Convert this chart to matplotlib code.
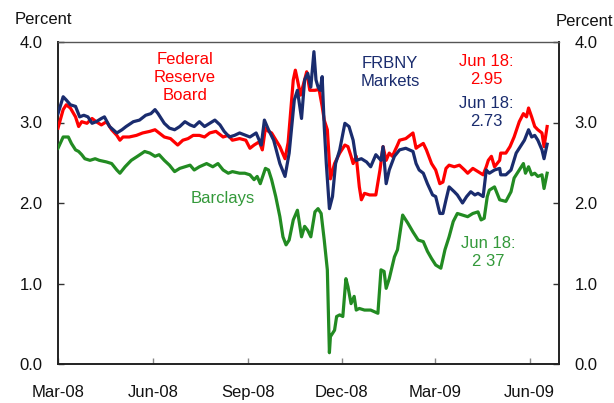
import matplotlib
matplotlib.use("Agg")
import matplotlib.pyplot as plt
import pandas as pd

plt.rcParams['font.family'] = ['Liberation Sans', 'DejaVu Sans']

# ---------------- data ----------------
fed_dates = ["2008-03-01","2008-03-06","2008-03-09","2008-03-13","2008-03-18","2008-03-21","2008-03-24",
 "2008-03-29","2008-04-03","2008-04-07","2008-04-12","2008-04-17","2008-04-22","2008-04-27","2008-04-30",
 "2008-05-03","2008-05-09","2008-05-16","2008-05-22","2008-05-29","2008-06-03","2008-06-07","2008-06-12",
 "2008-06-18","2008-06-25","2008-06-30","2008-07-05","2008-07-10","2008-07-16","2008-07-21","2008-07-26",
 "2008-08-01","2008-08-08","2008-08-13","2008-08-17","2008-08-24","2008-08-30","2008-09-03","2008-09-07",
 "2008-09-12","2008-09-15","2008-09-18","2008-09-21","2008-09-24","2008-10-02","2008-10-07","2008-10-10",
 "2008-10-15","2008-10-17","2008-10-19","2008-10-22","2008-10-26","2008-10-28","2008-10-31","2008-11-05",
 "2008-11-09","2008-11-12","2008-11-14","2008-11-17","2008-11-20","2008-11-24","2008-11-29","2008-12-04",
 "2008-12-07","2008-12-10","2008-12-12","2008-12-15","2008-12-18","2008-12-20","2008-12-23","2008-12-28",
 "2009-01-03","2009-01-07","2009-01-10","2009-01-13","2009-01-16","2009-01-19","2009-01-24","2009-01-26",
 "2009-02-01","2009-02-08","2009-02-11","2009-02-13","2009-02-18","2009-02-21","2009-02-26","2009-03-02",
 "2009-03-06","2009-03-09","2009-03-12","2009-03-15","2009-03-20","2009-03-25","2009-03-30","2009-04-02",
 "2009-04-07","2009-04-12","2009-04-17","2009-04-20","2009-04-22","2009-04-25","2009-04-28","2009-05-03",
 "2009-05-04","2009-05-09","2009-05-13","2009-05-17","2009-05-22","2009-05-26","2009-05-29","2009-05-31",
 "2009-06-03","2009-06-06","2009-06-09","2009-06-13","2009-06-15","2009-06-18"]
fed_vals = [2.93,3.16,3.22,3.18,3.07,2.95,3.01,
 2.99,3.05,3.01,2.97,3.01,2.91,2.84,2.78,
 2.82,2.82,2.84,2.87,2.89,2.91,2.87,2.82,
 2.80,2.72,2.78,2.80,2.84,2.84,2.82,2.87,
 2.89,2.82,2.84,2.78,2.80,2.78,2.68,2.72,
 2.76,2.66,2.93,2.89,2.87,2.70,2.55,2.75,
 3.53,3.65,3.53,3.34,3.53,3.63,3.40,3.40,
 3.41,3.20,3.03,2.91,2.30,2.49,2.62,2.72,
 2.70,2.58,2.49,2.58,2.20,2.04,2.12,2.10,
 2.10,2.41,2.70,2.53,2.62,2.58,2.72,2.78,
 2.80,2.87,2.68,2.70,2.74,2.66,2.49,2.41,
 2.24,2.26,2.43,2.47,2.45,2.47,2.41,2.37,
 2.43,2.39,2.35,2.45,2.53,2.58,2.45,2.53,
 2.62,2.62,2.70,2.82,3.01,3.11,3.07,3.18,
 3.07,2.95,2.91,2.87,2.70,2.95]

frbny_dates = ["2008-03-01","2008-03-06","2008-03-09","2008-03-13","2008-03-18","2008-03-22","2008-03-26",
 "2008-03-30","2008-04-03","2008-04-07","2008-04-12","2008-04-15","2008-04-20","2008-04-27","2008-05-02",
 "2008-05-06","2008-05-13","2008-05-19","2008-05-25","2008-05-30","2008-06-03","2008-06-06","2008-06-09",
 "2008-06-12","2008-06-17","2008-06-22","2008-06-27","2008-07-02","2008-07-07","2008-07-11","2008-07-16",
 "2008-07-21","2008-07-26","2008-07-31","2008-08-05","2008-08-09","2008-08-14","2008-08-19","2008-08-24",
 "2008-08-30","2008-09-03","2008-09-09","2008-09-12","2008-09-14","2008-09-17","2008-09-21","2008-09-26",
 "2008-10-02","2008-10-07","2008-10-11","2008-10-16","2008-10-19","2008-10-23","2008-10-26","2008-10-29",
 "2008-11-01","2008-11-04","2008-11-06","2008-11-08","2008-11-10","2008-11-12","2008-11-14","2008-11-16",
 "2008-11-19","2008-11-22","2008-11-25","2008-11-29","2008-12-04","2008-12-08","2008-12-12","2008-12-15",
 "2008-12-20","2008-12-25","2008-12-29","2009-01-03","2009-01-08","2009-01-10","2009-01-13","2009-01-16",
 "2009-01-21","2009-01-26","2009-02-01","2009-02-08","2009-02-11","2009-02-14","2009-02-18","2009-02-22",
 "2009-02-27","2009-03-02","2009-03-06","2009-03-09","2009-03-12","2009-03-15","2009-03-20","2009-03-23",
 "2009-03-28","2009-04-01","2009-04-05","2009-04-09","2009-04-12","2009-04-17","2009-04-20","2009-04-23",
 "2009-04-28","2009-05-03","2009-05-04","2009-05-09","2009-05-14","2009-05-19","2009-05-24","2009-05-27",
 "2009-05-31","2009-06-03","2009-06-06","2009-06-09","2009-06-13","2009-06-15","2009-06-18"]
frbny_vals = [3.11,3.32,3.28,3.22,3.20,3.07,3.09,
 3.07,2.99,3.01,3.05,3.07,2.95,2.87,2.91,
 2.95,3.01,3.03,3.09,3.11,3.16,3.11,3.05,
 2.99,2.93,2.91,2.95,3.01,2.97,2.95,3.01,
 2.95,2.99,3.03,2.97,2.89,2.82,2.84,2.87,
 2.84,2.82,2.87,2.78,2.72,3.03,2.91,2.78,
 2.49,2.33,2.62,3.28,3.40,3.05,3.53,3.61,
 3.44,3.88,3.53,3.44,3.40,3.57,2.95,2.49,
 1.93,2.08,2.49,2.66,2.99,2.95,2.78,2.53,
 2.55,2.51,2.45,2.60,2.53,2.70,2.24,2.41,
 2.58,2.66,2.68,2.64,2.49,2.41,2.37,2.24,
 2.10,2.08,1.87,1.87,2.04,2.20,2.14,2.10,
 2.00,2.08,2.14,2.10,2.12,2.08,2.41,2.37,
 2.41,2.43,2.35,2.35,2.41,2.62,2.72,2.78,
 2.91,2.82,2.84,2.78,2.66,2.55,2.73]

barc_dates = ["2008-03-01","2008-03-06","2008-03-11","2008-03-14","2008-03-18","2008-03-21","2008-03-24",
 "2008-03-27","2008-04-01","2008-04-06","2008-04-10","2008-04-17","2008-04-22","2008-04-27","2008-04-30",
 "2008-05-05","2008-05-11","2008-05-17","2008-05-24","2008-05-29","2008-06-03","2008-06-07","2008-06-12",
 "2008-06-17","2008-06-22","2008-06-27","2008-07-02","2008-07-07","2008-07-11","2008-07-16","2008-07-23",
 "2008-07-29","2008-08-03","2008-08-08","2008-08-13","2008-08-17","2008-08-24","2008-08-29","2008-09-03",
 "2008-09-07","2008-09-10","2008-09-13","2008-09-18","2008-09-21","2008-09-24","2008-09-28","2008-10-02",
 "2008-10-05","2008-10-08","2008-10-11","2008-10-15","2008-10-19","2008-10-23","2008-10-26","2008-10-29",
 "2008-11-01","2008-11-05","2008-11-08","2008-11-11","2008-11-14","2008-11-17","2008-11-19","2008-11-20",
 "2008-11-24","2008-11-26","2008-11-29","2008-12-02","2008-12-05","2008-12-07","2008-12-10","2008-12-13",
 "2008-12-15","2008-12-18","2008-12-23","2008-12-29","2009-01-05","2009-01-08","2009-01-11","2009-01-13",
 "2009-01-16","2009-01-21","2009-01-24","2009-01-29","2009-02-03","2009-02-08","2009-02-13","2009-02-18",
 "2009-02-22","2009-02-26","2009-03-02","2009-03-07","2009-03-11","2009-03-15","2009-03-19","2009-03-23",
 "2009-03-28","2009-04-02","2009-04-07","2009-04-12","2009-04-15","2009-04-18","2009-04-21","2009-04-23",
 "2009-04-28","2009-05-03","2009-05-09","2009-05-14","2009-05-17","2009-05-22","2009-05-26","2009-05-28",
 "2009-05-31","2009-06-03","2009-06-06","2009-06-09","2009-06-13","2009-06-15","2009-06-18"]
barc_vals = [2.68,2.82,2.82,2.74,2.66,2.64,2.60,
 2.55,2.53,2.55,2.53,2.51,2.49,2.41,2.37,
 2.45,2.53,2.58,2.64,2.62,2.58,2.60,2.53,
 2.47,2.39,2.43,2.45,2.47,2.41,2.45,2.49,
 2.45,2.49,2.41,2.37,2.39,2.37,2.37,2.35,
 2.29,2.33,2.24,2.43,2.41,2.29,2.08,1.83,
 1.58,1.48,1.54,1.79,1.91,1.58,1.71,1.66,
 1.58,1.89,1.93,1.87,1.54,1.17,0.14,0.34,
 0.42,0.59,0.61,0.59,1.06,0.96,0.75,0.84,
 0.67,0.69,0.67,0.67,0.63,1.17,1.15,0.94,
 1.06,1.33,1.42,1.85,1.75,1.64,1.54,1.52,
 1.40,1.31,1.23,1.19,1.42,1.58,1.77,1.87,
 1.85,1.83,1.87,1.89,1.79,1.81,2.08,2.16,
 2.20,2.04,2.02,2.14,2.31,2.41,2.49,2.37,
 2.45,2.35,2.37,2.33,2.35,2.18,2.37]

y_ticks = [0, 1, 2, 3, 4]
y_ticklabels = ["0.0", "1.0", "2.0", "3.0", "4.0"]
x_ticks = ["2008-03-01", "2008-06-01", "2008-09-01", "2008-12-01", "2009-03-01", "2009-06-01"]
x_ticklabels = ["Mar-08", "Jun-08", "Sep-08", "Dec-08", "Mar-09", "Jun-09"]
x_range = ["2008-03-01", "2009-06-29 12:00"]

# ---------------- style ----------------
RED = "#FF0000"
NAVY = "#1A2C6E"
GREEN = "#228B22"
GREEN_TXT = "#33993A"
FS = 12

W, H = 614, 403
fig = plt.figure(figsize=(W / 100, H / 100), dpi=100)
ax = fig.add_axes([58 / W, 1 - 364 / H, (559 - 58) / W, (364 - 42) / H])

ax.plot(pd.to_datetime(barc_dates), barc_vals, color=GREEN, lw=2.3, solid_joinstyle="round", zorder=3)
ax.plot(pd.to_datetime(fed_dates), fed_vals, color=RED, lw=2.3, solid_joinstyle="round", zorder=4)
ax.plot(pd.to_datetime(frbny_dates), frbny_vals, color=NAVY, lw=2.3, solid_joinstyle="round", zorder=5)

ax.set_xlim(pd.to_datetime(x_range[0]), pd.to_datetime(x_range[1]))
ax.set_ylim(0, 4)

ax.set_xticks(pd.to_datetime(x_ticks))
ax.set_xticklabels(x_ticklabels, fontsize=FS, color="#111111")
ax.set_yticks(y_ticks)
ax.set_yticklabels(y_ticklabels, fontsize=FS, color="#111111")
ax.tick_params(axis="x", direction="in", length=4, width=1, color="#888888", pad=15)
ax.tick_params(axis="y", direction="in", length=4, width=1, color="#333333", pad=11,
               right=True, labelright=True, labelsize=FS, labelcolor="#111111")

for s in ax.spines.values():
    s.set_linewidth(1.4)
    s.set_color("#222222")
ax.spines["top"].set_color("#555555")
ax.spines["top"].set_linewidth(1.0)

def ftext(x, y, s, **kw):
    fig.text(x / W, 1 - y / H, s, ha="center", va="center", fontsize=FS, **kw)

ftext(43, 19, "Percent", color="#111111")
ftext(584, 22, "Percent", color="#111111")
ftext(185, 77, "Federal\nReserve\nBoard", color=RED, linespacing=1.25)
ftext(390, 72.5, "FRBNY\nMarkets", color=NAVY, linespacing=1.25)
ftext(486, 71, "Jun 18:\n2.95", color=RED, linespacing=1.25)
ftext(486, 112, "Jun 18:\n2.73", color=NAVY, linespacing=1.25)
ftext(488, 252, "Jun 18:\n2 37", color=GREEN_TXT, linespacing=1.25)
ftext(223, 198, "Barclays", color=GREEN_TXT)

fig.savefig("out.png", dpi=100)
